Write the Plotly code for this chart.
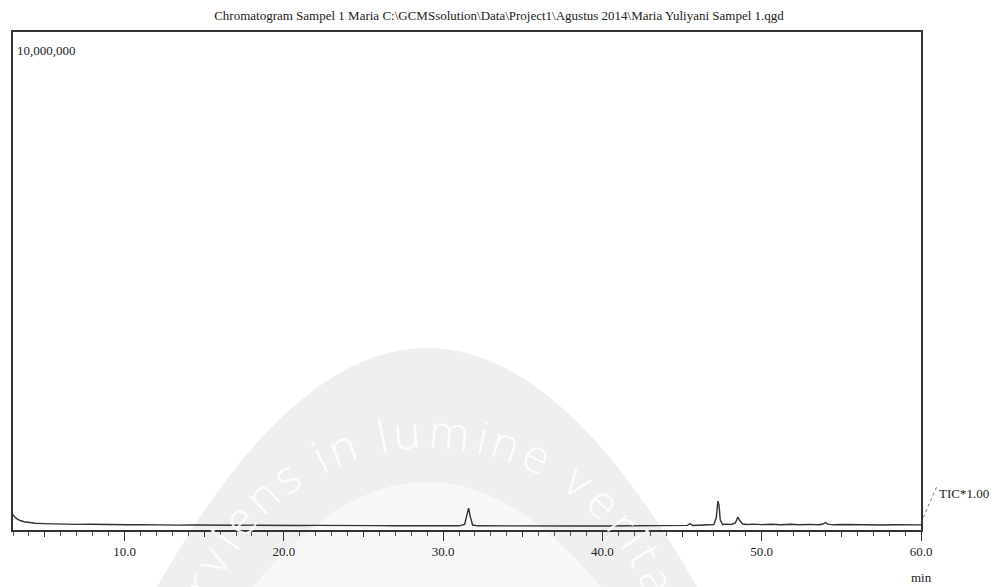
import math
import plotly.graph_objects as go

# ---------------- data ----------------
rt_min = [3.00, 3.10, 3.25, 3.45, 3.70, 4.00, 4.40, 4.90, 5.50, 6.20, 7.00, 7.80, 8.60, 9.40,
          10.20, 11.00, 11.80, 12.60, 13.40, 14.20, 15.00, 16.00, 17.00, 18.00, 19.00, 20.00,
          21.00, 22.00, 23.00, 24.00, 25.00, 26.00, 27.00, 28.00, 29.00, 30.00, 31.00, 31.35,
          31.50, 31.60, 31.70, 31.85, 32.20, 33.00, 34.00, 35.00, 36.00, 37.00, 38.00, 39.00,
          40.00, 41.00, 42.00, 43.00, 44.00, 44.90, 45.35, 45.50, 45.65, 46.00, 46.50, 47.00,
          47.15, 47.25, 47.32, 47.40, 47.55, 47.80, 48.10, 48.35, 48.50, 48.60, 48.80, 49.10,
          49.50, 50.00, 50.60, 51.20, 51.80, 52.40, 53.00, 53.60, 53.85, 54.00, 54.15, 54.50,
          55.20, 56.00, 56.80, 57.60, 58.40, 59.20, 60.00]
tic_counts = [310000, 265000, 225000, 190000, 165000, 148000, 135000, 128000, 122000, 118000,
              112000, 115000, 108000, 110000, 104000, 107000, 100000, 104000, 98000, 101000,
              96000, 99000, 94000, 97000, 92000, 95000, 90000, 93000, 88000, 90000, 86000,
              87000, 84000, 86000, 83000, 85000, 84000, 110000, 300000, 440000, 280000, 100000,
              84000, 82000, 84000, 81000, 83000, 80000, 82000, 80000, 81000, 83000, 85000,
              88000, 86000, 90000, 92000, 130000, 92000, 95000, 105000, 110000, 250000, 580000,
              500000, 200000, 110000, 118000, 112000, 140000, 260000, 200000, 120000, 110000,
              118000, 108000, 115000, 106000, 114000, 104000, 112000, 105000, 120000, 150000,
              118000, 104000, 110000, 102000, 108000, 100000, 106000, 98000, 102000]

x_major_ticks = [10, 20, 30, 40, 50, 60]
x_major_labels = ["10.0", "20.0", "30.0", "40.0", "50.0", "60.0"]
x_mid_ticks = [5, 15, 25, 35, 45, 55]
x_range = [3.0, 60.0]
y_range = [0, 10000000]
y_top_label = "10,000,000"
title_text = ("Chromatogram Sampel 1 Maria C:\\GCMSsolution\\Data\\Project1\\Agustus 2014"
              "\\Maria Yuliyani Sampel 1.qgd")
trace_label = "TIC*1.00"
x_unit = "min"
watermark_text = "rviens in lumine verita"

# ---------------- layout geometry ----------------
W, H = 995, 587
ML, MR, MT, MB = 13, 74, 32, 57
PW, PH = W - ML - MR, H - MT - MB
SERIF = "Liberation Serif, Times New Roman, serif"


def px(xp):
    return (xp - ML) / PW


def py(yp):
    return (H - MB - yp) / PH


fig = go.Figure()

fig.add_trace(go.Scatter(x=rt_min, y=tic_counts, mode="lines",
                         line=dict(color="#333333", width=1.4),
                         hoverinfo="x+y", showlegend=False))
# helper trace for the overlaid 5-min tick axis
fig.add_trace(go.Scatter(x=rt_min, y=tic_counts, xaxis="x2", mode="lines",
                         line=dict(width=0), opacity=0, hoverinfo="skip",
                         showlegend=False))

shapes = []
# watermark (faint arch)
shapes.append(dict(type="path", xref="paper", yref="paper", layer="below",
                   path=f"M {px(157)},{py(587)} Q {px(427)},{py(109)} {px(697)},{py(587)} Z",
                   fillcolor="#efefef", line=dict(width=0)))
shapes.append(dict(type="path", xref="paper", yref="paper", layer="below",
                   path=f"M {px(253)},{py(587)} Q {px(427)},{py(377)} {px(601)},{py(587)} Z",
                   fillcolor="#f8f8f8", line=dict(width=0)))
# leader line to the trace label
shapes.append(dict(type="line", xref="paper", yref="paper",
                   x0=px(921), y0=py(523), x1=px(937), y1=py(486),
                   line=dict(color="#555", width=0.8, dash="dot")))

annotations = []
annotations.append(dict(text=y_top_label, xref="paper", yref="paper", x=px(15), y=py(50),
                        xanchor="left", yanchor="middle", showarrow=False,
                        font=dict(family=SERIF, size=13, color="#222")))
annotations.append(dict(text=trace_label, xref="paper", yref="paper", x=px(937), y=py(493),
                        xanchor="left", yanchor="middle", showarrow=False,
                        font=dict(family=SERIF, size=13, color="#222")))
annotations.append(dict(text=x_unit, xref="x", yref="paper", x=60, y=py(577),
                        xanchor="center", yanchor="middle", showarrow=False,
                        font=dict(family=SERIF, size=13, color="#222")))

# watermark letters along an arc
adv = {"r": 19, "v": 25, "i": 12, "e": 26, "n": 26, "s": 22, " ": 14, "l": 12,
       "u": 26, "m": 41, "t": 17, "a": 26}
cx, cy, R = 430, 680, 250
theta = -67.5
prev = None
for ch in watermark_text:
    if prev is not None:
        theta += math.degrees((adv[prev] / 2 + adv[ch] / 2) * 1.28 / R)
    prev = ch
    if ch == " ":
        continue
    t = math.radians(theta)
    xp = cx + R * math.sin(t)
    yp = cy - R * math.cos(t)
    annotations.append(dict(text=ch, xref="paper", yref="paper", x=px(xp), y=py(yp),
                            xanchor="center", yanchor="middle", showarrow=False,
                            textangle=theta,
                            font=dict(family="Open Sans, Noto Sans, sans-serif", size=46,
                                      weight=300, color="rgba(255,255,255,0.9)")))

fig.update_layout(
    width=W, height=H,
    margin=dict(l=ML, r=MR, t=MT, b=MB),
    paper_bgcolor="white", plot_bgcolor="rgba(0,0,0,0)",
    title=dict(text=title_text, x=499 / W, xref="container", xanchor="center",
               y=1 - 15 / H, yref="container", yanchor="middle",
               font=dict(family=SERIF, size=13, color="#222")),
    xaxis=dict(range=x_range, tickvals=x_major_ticks, ticktext=x_major_labels,
               ticks="outside", ticklen=9, tickwidth=1, tickcolor="#333",
               showline=True, linecolor="#333", linewidth=1.5, mirror=True,
               showgrid=False, zeroline=False,
               tickfont=dict(family=SERIF, size=13, color="#222"),
               minor=dict(dtick=1, tick0=0, ticks="outside", ticklen=4, tickwidth=1,
                          tickcolor="#555", showgrid=False)),
    xaxis2=dict(range=x_range, overlaying="x", anchor="y", side="bottom",
                tickvals=x_mid_ticks, ticks="outside", ticklen=6, tickwidth=1,
                tickcolor="#333", showticklabels=False, showgrid=False,
                zeroline=False, showline=False),
    yaxis=dict(range=y_range, showticklabels=False, ticks="", showgrid=False,
               zeroline=False, showline=True, linecolor="#333", linewidth=1.5,
               mirror=True),
    shapes=shapes,
    annotations=annotations,
)

fig.write_html("out.html", config={"displayModeBar": False},
               post_script="document.body.style.margin='0';document.body.style.overflow='hidden';")
